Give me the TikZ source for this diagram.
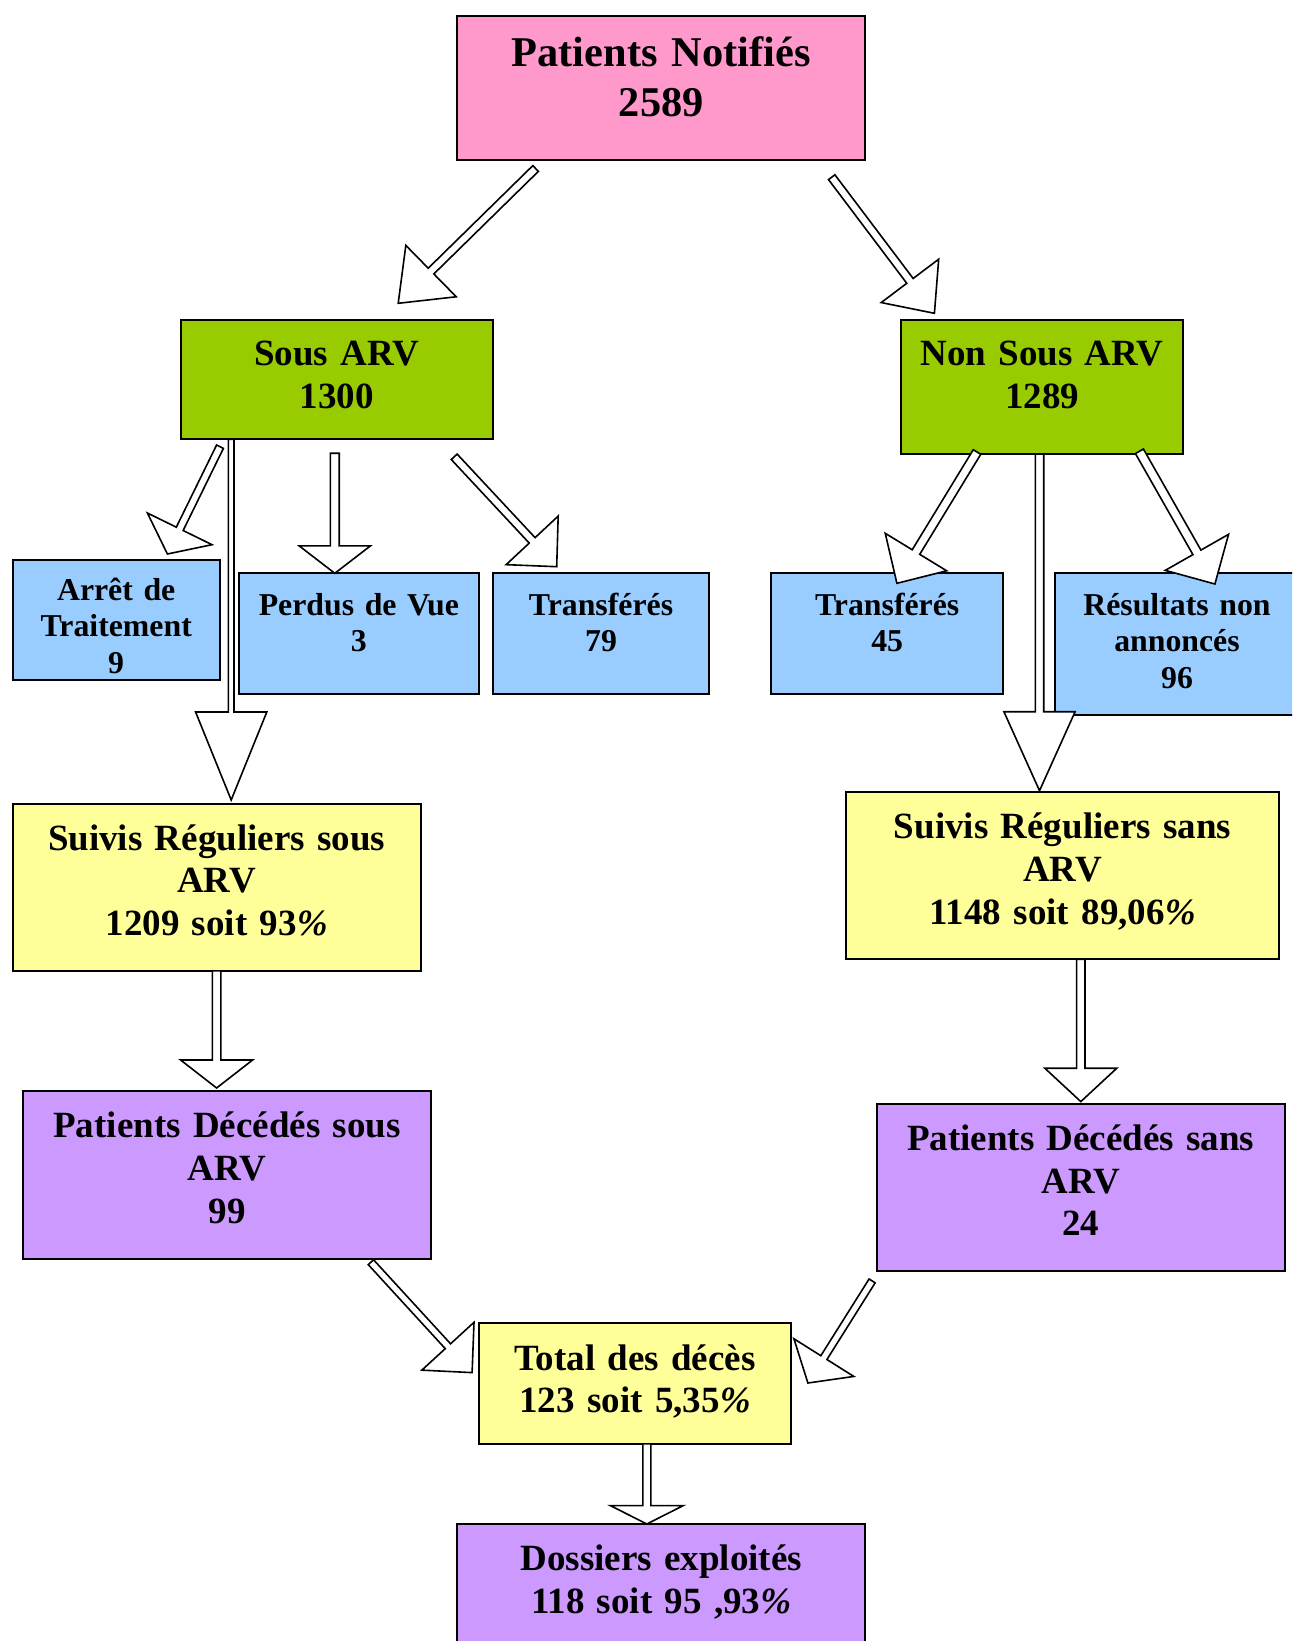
\documentclass[tikz,border=0pt]{standalone}
\usepackage{fontspec}
\setmainfont{Liberation Serif}
\usetikzlibrary{calc,fit}
\definecolor{pinkc}{HTML}{FF99CC}
\definecolor{greenc}{HTML}{99CC00}
\definecolor{bluec}{HTML}{99CCFF}
\definecolor{yellowc}{HTML}{FFFF99}
\definecolor{purplec}{HTML}{CC99FF}
\newcommand\pct{\textit{\%}}
\newcommand\blkarrow[5]{%
  \coordinate (ah) at ($(#2)!#5!(#1)$);
  \draw[blkarr] ($(#1)!#3!90:(#2)$) -- ($(ah)!#3!-90:(#1)$) -- ($(ah)!#4!-90:(#1)$) -- (#2)
     -- ($(ah)!#4!90:(#1)$) -- ($(ah)!#3!90:(#1)$) -- ($(#1)!#3!-90:(#2)$) -- cycle;}
\begin{document}
\begin{tikzpicture}[x=0.5pt,y=-0.5pt,
  bx/.style={draw=black,line width=1pt,inner sep=0pt},
  blkarr/.style={draw=black,fill=white,line width=0.8pt,line join=miter},
  ttop/.style={text width=300pt,align=center,inner sep=0pt,anchor=base,font=\bfseries\fontsize{21.2}{24.6}\selectfont},
  tbig/.style={text width=300pt,align=center,inner sep=0pt,anchor=base,font=\bfseries\fontsize{18.5}{21.4}\selectfont},
  tsmall/.style={text width=200pt,align=center,inner sep=0pt,anchor=base,font=\bfseries\fontsize{15.9}{18.3}\selectfont}]
\useasboundingbox (0,0) rectangle (1292,1641);
\clip (0,0) rectangle (1292,1641);
\fill[white] (0,0) rectangle (1292,1641);
% boxes
\node[bx,fill=pinkc,fit={(457.2,15.7) (865.2,160.1)}] (pn) {};
\node[bx,fill=greenc,fit={(181,320.1) (492.8,439.4)}] (sa) {};
\node[bx,fill=greenc,fit={(900.8,320.1) (1183.3,454.1)}] (nsa) {};
\node[bx,fill=bluec,fit={(12.6,559.7) (219.7,680)}] (at) {};
\node[bx,fill=bluec,fit={(238.5,573.3) (479.2,693.6)}] (pv) {};
\node[bx,fill=bluec,fit={(492.8,573.3) (709.3,693.6)}] (tr1) {};
\node[bx,fill=bluec,fit={(771,573.3) (1003.3,693.6)}] (tr2) {};
\node[bx,fill=bluec,fit={(1054.6,573.3) (1299,714.6)}] (rn) {};
\node[bx,fill=yellowc,fit={(12.6,803.5) (420.6,970.9)}] (srs) {};
\node[bx,fill=yellowc,fit={(846.4,792) (1278.5,959.4)}] (srn) {};
\node[bx,fill=purplec,fit={(23,1091.2) (431,1258.6)}] (pds) {};
\node[bx,fill=purplec,fit={(876.7,1103.7) (1284.7,1271.1)}] (pdn) {};
\node[bx,fill=yellowc,fit={(479.2,1323.4) (790.9,1443.8)}] (td) {};
\node[bx,fill=purplec,fit={(457.2,1524.3) (865.2,1680)}] (de) {};
% texts
\node[ttop] (pnt) at (661.2,67) {Patients Notifiés\\2589};
\node[tbig] (sat) at (336.9,365.6) {Sous ARV\\1300};
\node[tbig] (nsat) at (1042,365.6) {Non Sous ARV\\1289};
\node[tsmall] (att) at (116.2,600.3) {Arrêt de\\Traitement\\9};
\node[tsmall] (pvt) at (358.9,615) {Perdus de Vue\\3};
\node[tsmall] (tr1t) at (601,615) {Transférés\\79};
\node[tsmall] (tr2t) at (887.2,615) {Transférés\\45};
\node[tsmall] (rnt) at (1177,615) {Résultats non\\annoncés\\96};
\node[tbig] (srst) at (216.6,850) {Suivis Réguliers sous\\ARV\\1209 soit 93\pct};
\node[tbig] (srnt) at (1062.5,838.5) {Suivis Réguliers sans\\ARV\\1148 soit 89,06\pct};
\node[tbig] (pdst) at (227,1137.7) {Patients Décédés sous\\ARV\\99};
\node[tbig] (pdnt) at (1080.7,1150.2) {Patients Décédés sans\\ARV\\24};
\node[tbig] (tdt) at (635,1370) {Total des décès\\123 soit 5,35\pct};
\node[tbig] (det) at (661.2,1570.8) {Dossiers exploités\\118 soit 95 ,93\pct};
% arrow ends
\coordinate (a1s) at (535.6,168.5);  \coordinate (a1e) at (398.2,303.3);
\coordinate (a2s) at (831.7,177.2);  \coordinate (a2e) at (934.4,313.3);
\coordinate (a3s) at (220,446.7);    \coordinate (a3e) at (167.4,554);
\coordinate (a4s) at (231.2,439.4);  \coordinate (a4e) at (231.2,800);
\coordinate (a5s) at (334.8,453.3);  \coordinate (a5e) at (334.8,573.3);
\coordinate (a6s) at (454.2,456.8);  \coordinate (a6e) at (556.7,566.7);
\coordinate (a7s) at (977,452);      \coordinate (a7e) at (896.9,583.3);
\coordinate (a8s) at (1039.5,454.1); \coordinate (a8e) at (1039.5,790.7);
\coordinate (a9s) at (1139.4,451.3); \coordinate (a9e) at (1214.9,584);
\coordinate (a10s) at (216.6,970.9); \coordinate (a10e) at (216.6,1088);
\coordinate (a11s) at (1080.8,959.4);\coordinate (a11e) at (1080.8,1101.6);
\coordinate (a12s) at (370.9,1262.2);\coordinate (a12e) at (472.1,1372.6);
\coordinate (a13s) at (872.1,1280.9);\coordinate (a13e) at (807.9,1383);
\coordinate (a14s) at (646.8,1443.8);\coordinate (a14e) at (646.8,1524);
% arrows
\blkarrow{a1s}{a1e}{2pt}{18pt}{23pt}
\blkarrow{a2s}{a2e}{2pt}{18pt}{20.3pt}
\blkarrow{a3s}{a3e}{1.9pt}{18pt}{14pt}
\blkarrow{a4s}{a4e}{1.4pt}{17.8pt}{44pt}
\blkarrow{a5s}{a5e}{2.2pt}{17.8pt}{13.7pt}
\blkarrow{a6s}{a6e}{2pt}{17.8pt}{18pt}
\blkarrow{a7s}{a7e}{2.2pt}{18pt}{18.3pt}
\blkarrow{a8s}{a8e}{2.1pt}{17.8pt}{39.5pt}
\blkarrow{a9s}{a9e}{2.3pt}{18.2pt}{18.2pt}
\blkarrow{a10s}{a10e}{2.1pt}{18pt}{14pt}
\blkarrow{a11s}{a11e}{2.1pt}{18pt}{16.7pt}
\blkarrow{a12s}{a12e}{1.8pt}{17.7pt}{17.9pt}
\blkarrow{a13s}{a13e}{1.8pt}{17.7pt}{15pt}
\blkarrow{a14s}{a14e}{2pt}{18.2pt}{9.2pt}
\end{tikzpicture}
\end{document}
